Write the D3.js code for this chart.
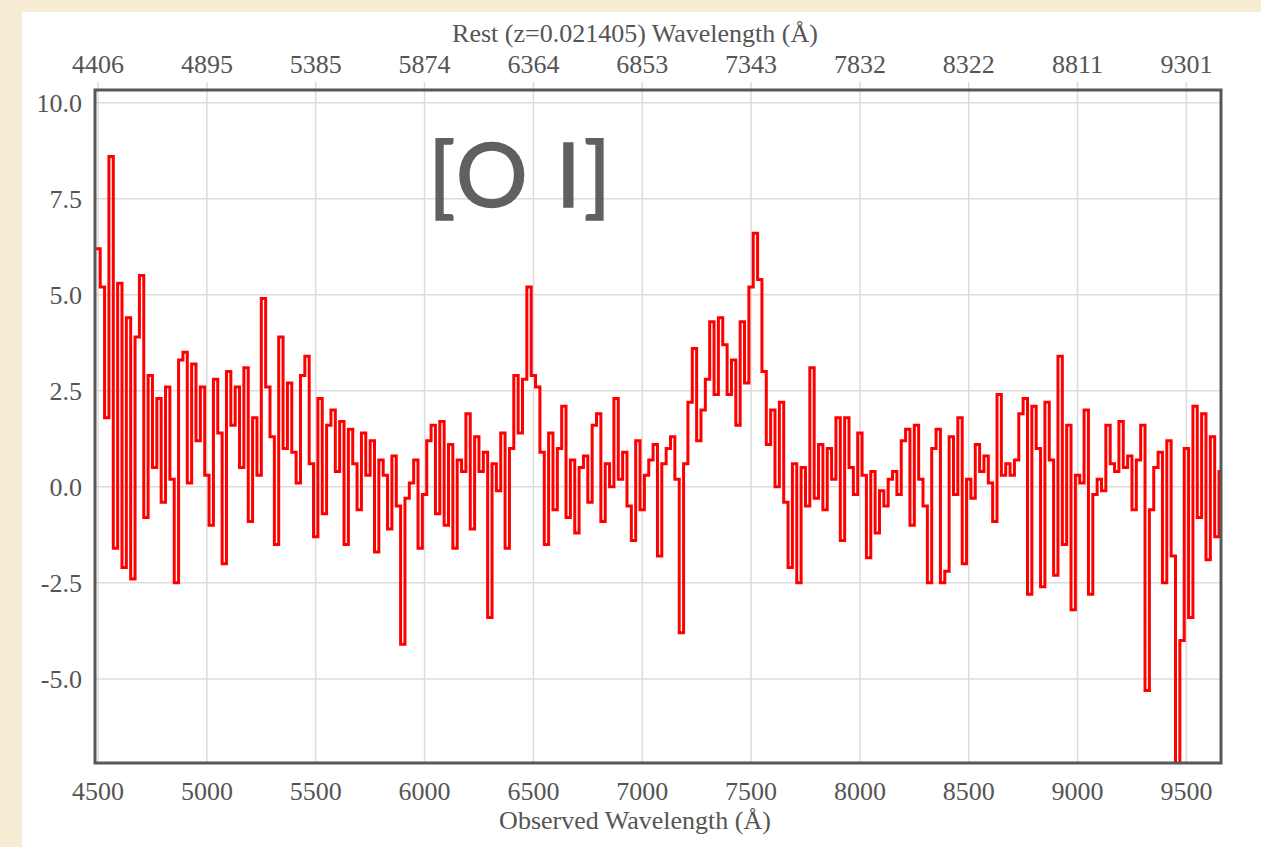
<!DOCTYPE html>
<html>
<head>
<meta charset="utf-8">
<script src="https://cdn.jsdelivr.net/npm/d3@7"></script>
<style>
  html, body { margin: 0; padding: 0; background: #f7edd4; }
  svg { display: block; }
</style>
</head>
<body>
<svg id="chart" width="1261" height="847"></svg>
<script>
// --- data ---
var redshift = 0.021405;
var binWidth = 20; // Angstrom per spectrum bin
var xTicks = [4500, 5000, 5500, 6000, 6500, 7000, 7500, 8000, 8500, 9000, 9500];
var restTickLabels = ["4406", "4895", "5385", "5874", "6364", "6853", "7343", "7832", "8322", "8811", "9301"];
var yTicks = [10, 7.5, 5, 2.5, 0, -2.5, -5];
var lineLabel = "[O I]";

var wavelength = [
  4490, 4510, 4530, 4550, 4570, 4590, 4610, 4630, 4650, 4670, 4690, 4710, 4730, 4750, 4770, 4790, 4810, 4830, 4850, 4870, 4890, 4910, 4930, 4950, 4970, 4990,
  5010, 5030, 5050, 5070, 5090, 5110, 5130, 5150, 5170, 5190, 5210, 5230, 5250, 5270, 5290, 5310, 5330, 5350, 5370, 5390, 5410, 5430, 5450, 5470, 5490,
  5510, 5530, 5550, 5570, 5590, 5610, 5630, 5650, 5670, 5690, 5710, 5730, 5750, 5770, 5790, 5810, 5830, 5850, 5870, 5890, 5910, 5930, 5950, 5970, 5990,
  6010, 6030, 6050, 6070, 6090, 6110, 6130, 6150, 6170, 6190, 6210, 6230, 6250, 6270, 6290, 6310, 6330, 6350, 6370, 6390, 6410, 6430, 6450, 6470, 6490,
  6510, 6530, 6550, 6570, 6590, 6610, 6630, 6650, 6670, 6690, 6710, 6730, 6750, 6770, 6790, 6810, 6830, 6850, 6870, 6890, 6910, 6930, 6950, 6970, 6990,
  7010, 7030, 7050, 7070, 7090, 7110, 7130, 7150, 7170, 7190, 7210, 7230, 7250, 7270, 7290, 7310, 7330, 7350, 7370, 7390, 7410, 7430, 7450, 7470, 7490,
  7510, 7530, 7550, 7570, 7590, 7610, 7630, 7650, 7670, 7690, 7710, 7730, 7750, 7770, 7790, 7810, 7830, 7850, 7870, 7890, 7910, 7930, 7950, 7970, 7990,
  8010, 8030, 8050, 8070, 8090, 8110, 8130, 8150, 8170, 8190, 8210, 8230, 8250, 8270, 8290, 8310, 8330, 8350, 8370, 8390, 8410, 8430, 8450, 8470, 8490,
  8510, 8530, 8550, 8570, 8590, 8610, 8630, 8650, 8670, 8690, 8710, 8730, 8750, 8770, 8790, 8810, 8830, 8850, 8870, 8890, 8910, 8930, 8950, 8970, 8990,
  9010, 9030, 9050, 9070, 9090, 9110, 9130, 9150, 9170, 9190, 9210, 9230, 9250, 9270, 9290, 9310, 9330, 9350, 9370, 9390, 9410, 9430, 9450, 9470, 9490,
  9510, 9530, 9550, 9570, 9590, 9610, 9630, 9650
];

var flux = [
  6.2, 5.2, 1.8, 8.6, -1.6, 5.3, -2.1, 4.4, -2.4, 3.9, 5.5, -0.8, 2.9, 0.5, 2.3, -0.4, 2.6, 0.2, -2.5, 3.3, 3.5, 0.1, 3.2, 1.2, 2.6, 0.3,
  -1.0, 2.8, 1.4, -2.0, 3.0, 1.6, 2.6, 0.5, 3.1, -0.9, 1.8, 0.3, 4.9, 2.6, 1.3, -1.5, 3.9, 1.0, 2.7, 0.9, 0.1, 2.9, 3.4, 0.6, -1.3,
  2.3, -0.7, 1.6, 2.0, 0.4, 1.7, -1.5, 1.5, 0.6, -0.6, 1.4, 0.3, 1.2, -1.7, 0.7, 0.3, -1.1, 0.8, -0.5, -4.1, -0.3, 0.1, 0.7, -1.6, -0.2,
  1.2, 1.6, -0.7, 1.7, -1.0, 1.1, -1.6, 0.7, 0.4, 1.9, -1.1, 1.3, 0.4, 0.9, -3.4, 0.6, -0.1, 1.4, -1.6, 1.0, 2.9, 1.4, 2.8, 5.2, 2.9,
  2.6, 0.9, -1.5, 1.4, -0.6, 1.0, 2.1, -0.8, 0.7, -1.2, 0.5, 0.8, -0.4, 1.6, 1.9, -0.9, 0.6, 0.0, 2.3, 0.2, 0.9, -0.5, -1.4, 1.2, -0.6,
  0.3, 0.7, 1.1, -1.8, 0.6, 1.0, 1.3, 0.2, -3.8, 0.6, 2.2, 3.6, 1.2, 2.0, 2.8, 4.3, 2.4, 4.4, 3.7, 2.4, 3.3, 1.6, 4.3, 2.7, 5.2,
  6.6, 5.4, 3.0, 1.1, 2.0, 0.0, 2.2, -0.4, -2.1, 0.6, -2.5, 0.5, -0.5, 3.1, -0.3, 1.1, -0.6, 1.0, 0.2, 1.8, -1.4, 1.8, 0.5, -0.2, 1.4,
  0.3, -1.85, 0.4, -1.2, -0.1, -0.5, 0.2, 0.4, -0.2, 1.2, 1.5, -1.0, 1.6, 0.2, -0.5, -2.5, 1.0, 1.5, -2.5, -2.2, 1.3, -0.2, 1.8, -2.0, 0.2,
  -0.3, 1.1, 0.4, 0.8, 0.1, -0.9, 2.4, 0.3, 0.6, 0.3, 0.7, 1.9, 2.3, -2.8, 2.1, 1.0, -2.6, 2.2, 0.7, -2.3, 3.4, -1.5, 1.6, -3.2, 0.3,
  0.1, 2.0, -2.8, -0.2, 0.2, -0.1, 1.6, 0.6, 0.4, 1.7, 0.5, 0.8, -0.6, 0.7, 1.6, -5.3, -0.6, 0.5, 0.9, -2.5, 1.2, -1.8, -7.5, -4.0, 1.0,
  -3.4, 2.1, -0.8, 1.9, -1.9, 1.3, -1.3, 0.4
];

// --- layout ---
var svg = d3.select("#chart");
var frame = {left: 95, right: 1221, top: 90, bottom: 763};
var textCol = "#555", gridCol = "#dcdcdc", serif = "'Liberation Serif', 'Times New Roman', serif";

var xScale = d3.scaleLinear().domain([4486, 9659]).range([frame.left, frame.right]);
var yScale = d3.scaleLinear().domain([-7.19, 10.33]).range([frame.bottom, frame.top]);

// white sheet on the beige paper
svg.append("rect").attr("x", 22).attr("y", 12).attr("width", 1261 - 22).attr("height", 847 - 12).attr("fill", "#ffffff");

// grid
var grid = svg.append("g").attr("class", "grid");
grid.selectAll("line.v").data(xTicks).enter().append("line")
  .attr("class", "v")
  .attr("x1", d => xScale(d)).attr("x2", d => xScale(d))
  .attr("y1", frame.top - 8).attr("y2", frame.bottom)
  .attr("stroke", gridCol).attr("stroke-width", 1.5);
grid.selectAll("line.h").data(yTicks).enter().append("line")
  .attr("class", "h")
  .attr("x1", frame.left).attr("x2", frame.right)
  .attr("y1", d => yScale(d)).attr("y2", d => yScale(d))
  .attr("stroke", gridCol).attr("stroke-width", 1.5);

// spectrum as steps
svg.append("clipPath").attr("id", "plotclip").append("rect")
  .attr("x", frame.left).attr("y", frame.top)
  .attr("width", frame.right - frame.left).attr("height", frame.bottom - frame.top);

var pts = wavelength.map((w, i) => [w, flux[i]]);
pts.push([wavelength[wavelength.length - 1] + binWidth, flux[flux.length - 1]]);

var line = d3.line()
  .x(d => xScale(d[0]))
  .y(d => yScale(d[1]))
  .curve(d3.curveStepAfter);

svg.append("path")
  .datum(pts)
  .attr("clip-path", "url(#plotclip)")
  .attr("d", line)
  .attr("fill", "none")
  .attr("stroke", "#ff0000")
  .attr("stroke-width", 3)
  .attr("stroke-linejoin", "miter");

// frame
svg.append("rect")
  .attr("x", frame.left).attr("y", frame.top)
  .attr("width", frame.right - frame.left).attr("height", frame.bottom - frame.top)
  .attr("fill", "none").attr("stroke", "#575757").attr("stroke-width", 3);

// bottom axis labels
svg.append("g").selectAll("text").data(xTicks).enter().append("text")
  .attr("x", d => xScale(d)).attr("y", 800)
  .attr("text-anchor", "middle")
  .attr("font-family", serif).attr("font-size", 26).attr("fill", textCol)
  .text(d => d);

// top axis labels (rest frame)
svg.append("g").selectAll("text").data(xTicks).enter().append("text")
  .attr("x", d => xScale(d)).attr("y", 72.5)
  .attr("text-anchor", "middle")
  .attr("font-family", serif).attr("font-size", 26).attr("fill", textCol)
  .text((d, i) => restTickLabels[i]);

// y axis labels, plain hyphen for minus like the original
svg.append("g").selectAll("text").data(yTicks).enter().append("text")
  .attr("x", 82).attr("y", d => yScale(d) + 9)
  .attr("text-anchor", "end")
  .attr("font-family", serif).attr("font-size", 26).attr("fill", textCol)
  .text(d => d.toFixed(1));

// axis titles
svg.append("text")
  .attr("x", 635).attr("y", 42)
  .attr("text-anchor", "middle")
  .attr("font-family", serif).attr("font-size", 26).attr("fill", textCol)
  .text("Rest (z=" + redshift + ") Wavelength (Å)");

svg.append("text")
  .attr("x", 635).attr("y", 829)
  .attr("text-anchor", "middle")
  .attr("font-family", serif).attr("font-size", 26).attr("fill", textCol)
  .text("Observed Wavelength (Å)");

// line annotation
svg.append("text")
  .attr("x", 428).attr("y", 207)
  .attr("font-family", "Lato, 'DejaVu Sans', sans-serif").attr("font-size", 90)
  .attr("textLength", 183).attr("lengthAdjust", "spacing")
  .attr("fill", "#606060").attr("stroke", "#606060").attr("stroke-width", 1.5)
  .text(lineLabel);
</script>
</body>
</html>
